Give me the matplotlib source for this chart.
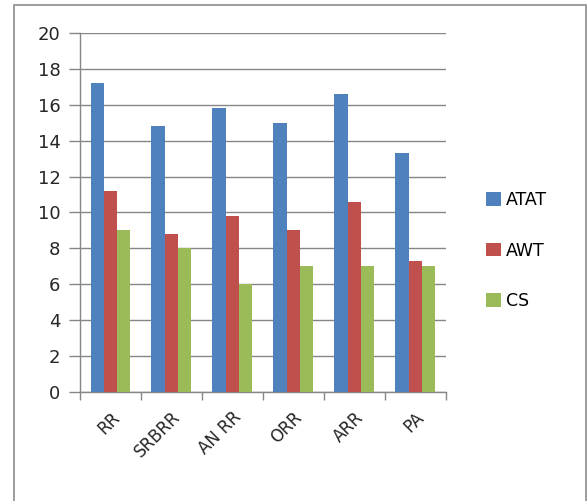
import numpy as np
import matplotlib
matplotlib.use("Agg")
import matplotlib.pyplot as plt
from matplotlib.patches import Rectangle

# データ
categories = ["RR", "SRBRR", "AN RR", "ORR", "ARR", "PA"]
atat = [17.2, 14.8, 15.8, 15.0, 16.6, 13.3]
awt = [11.2, 8.8, 9.8, 9.0, 10.6, 7.3]
cs = [9.0, 8.0, 6.0, 7.0, 7.0, 7.0]
series_names = ["ATAT", "AWT", "CS"]
colors = ["#4F81BD", "#C0504D", "#9BBB59"]

plt.rcParams['font.family'] = ['DejaVu Sans']

fig = plt.figure(figsize=(5.88, 5.01), dpi=100)
ax = fig.add_axes([0.136, 0.218, 0.622, 0.716])

# 外枠
fig.patches.append(Rectangle((14 / 588, -0.05), (586 - 14) / 588, 1.05 - 5 / 501,
                             transform=fig.transFigure, fill=False,
                             edgecolor="#8c8c8c", linewidth=1.2))

x = np.arange(len(categories))
w = 0.218
for i, (vals, name, c) in enumerate(zip([atat, awt, cs], series_names, colors)):
    ax.bar(x + (i - 1) * w, vals, width=w, color=c, label=name, zorder=3)

ax.set_xlim(-0.5, len(categories) - 0.5)
ax.set_ylim(0, 20)
ax.set_yticks(np.arange(0, 21, 2))
ax.yaxis.grid(True, color="#868686", linewidth=1.0, zorder=0)
ax.set_axisbelow(True)

# x軸の目盛はカテゴリ境界に
ax.set_xticks(np.arange(-0.5, len(categories), 1.0))
ax.set_xticklabels([])
ax.set_xticks(x, minor=True)
ax.set_xticklabels(categories, minor=True, rotation=45, ha="right",
                   rotation_mode="anchor", fontsize=12, color="#262626")
ax.tick_params(axis="x", which="minor", length=0, pad=12)
ax.tick_params(axis="x", which="major", length=6, color="#868686", width=1)
ax.tick_params(axis="y", length=8, color="#868686", width=1,
               labelsize=13, labelcolor="#262626", pad=6)

for s in ["top", "right"]:
    ax.spines[s].set_visible(False)
for s in ["left", "bottom"]:
    ax.spines[s].set_color("#868686")
    ax.spines[s].set_linewidth(1.0)

fig.legend(loc="center left", bbox_to_anchor=(0.80, 0.50), frameon=False,
           handlelength=0.85, handleheight=0.85, handletextpad=0.3,
           labelspacing=1.85, fontsize=12.5)

plt.savefig("out.png", dpi=100)
plt.close()
